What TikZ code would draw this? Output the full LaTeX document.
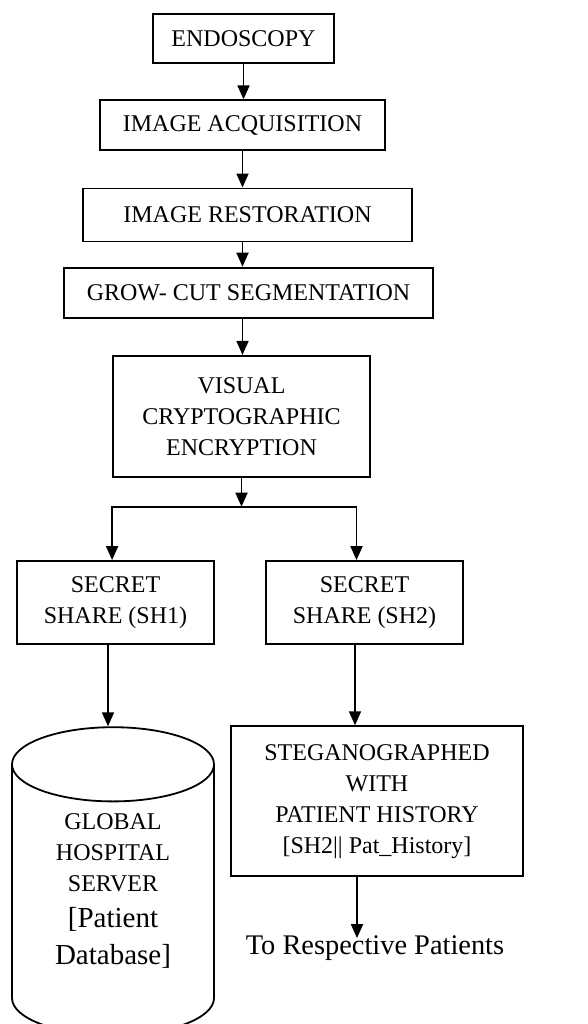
\documentclass[tikz,border=0pt]{standalone}
\usepackage{fontspec}
\setmainfont{Liberation Serif}
\usetikzlibrary{shapes.geometric, arrows.meta, positioning}

\begin{document}
\begin{tikzpicture}[
    node distance=1cm,
    line width=0.9pt,
    procbox/.style={rectangle, draw, align=center, inner sep=2pt,
                    font=\fontsize{12}{15.5}\selectfont},
    dbase/.style={cylinder, draw, shape border rotate=90, shape aspect=0.64,
                  minimum width=101pt, minimum height=154pt, align=center,
                  inner sep=0pt, font=\fontsize{12}{15.5}\selectfont},
    destnote/.style={inner sep=0pt, font=\fontsize{14.2}{17}\selectfont},
    flow/.style={-{Triangle[width=6pt, length=7pt]}}
]
    \useasboundingbox (0,0) rectangle (294pt,-512pt);

    \node[procbox, minimum width=90.5pt, minimum height=24.5pt] (endo) at (121.75pt,-19.25pt) {ENDOSCOPY};
    \node[procbox, minimum width=142.5pt, minimum height=25pt, below=17.7pt of endo, xshift=-0.5pt] (acq) {IMAGE ACQUISITION};
    \node[procbox, minimum width=164.5pt, minimum height=26.5pt, below=18.2pt of acq, xshift=2.5pt] (rest) {IMAGE RESTORATION};
    \node[procbox, minimum width=184.5pt, minimum height=25pt, below=12.2pt of rest, xshift=0.5pt] (grow) {GROW- CUT SEGMENTATION};
    \node[procbox, minimum width=128.5pt, minimum height=60.5pt, below=18.2pt of grow, xshift=-3.5pt] (vce) {VISUAL\\CRYPTOGRAPHIC\\ENCRYPTION};

    \node[procbox, minimum width=98.5pt, minimum height=41.5pt, below=41.2pt of vce, xshift=-63pt] (sh1) {SECRET\\SHARE (SH1)};
    \node[procbox, minimum width=98.5pt, minimum height=41.5pt, below=41.2pt of vce, xshift=61.5pt] (sh2) {SECRET\\SHARE (SH2)};

    \node[dbase, below=40.7pt of sh1, xshift=-1.25pt] (db) {GLOBAL\\HOSPITAL\\SERVER\\[2.5pt]{\fontsize{14.5}{18}\selectfont{[}Patient}\\[3pt]{\fontsize{14.5}{18}\selectfont Database]\rule[-11pt]{0pt}{11pt}}};
    \node[procbox, minimum width=146pt, minimum height=75pt, below=40.2pt of sh2, xshift=6.25pt] (steg) {STEGANOGRAPHED\\WITH\\PATIENT HISTORY\\{[}SH2\textbar\textbar{} Pat\_History]};
    \node[destnote, below=28.8pt of steg, xshift=-1pt] (dest) {To Respective Patients};

    % main chain
    \draw[flow] (endo.south) -- (endo.south |- acq.north);
    \draw[flow] (acq.south) -- (acq.south |- rest.north);
    \draw[flow] (acq.south |- rest.south) -- (acq.south |- grow.north);
    \draw[flow] (acq.south |- grow.south) -- (acq.south |- vce.north);

    % split into two shares
    \coordinate (split) at ([yshift=-14.5pt]vce.south);
    \draw[flow] (vce.south) -- (split);
    \draw[flow] (split) -| (vce.west |- sh1.north);
    \draw[flow] (split) -| ([xshift=-4pt]sh2.north);

    \draw[flow] ([xshift=-3.75pt]sh1.south) -- ([xshift=-3.75pt]sh1.south |- db.north);
    \draw[flow] ([xshift=-4.75pt]sh2.south) -- ([xshift=-4.75pt]sh2.south |- steg.north);
    \draw[flow] ([xshift=-10pt]steg.south) -- ([xshift=-10pt,yshift=-1.7pt]steg.south |- dest.north);
\end{tikzpicture}
\end{document}
